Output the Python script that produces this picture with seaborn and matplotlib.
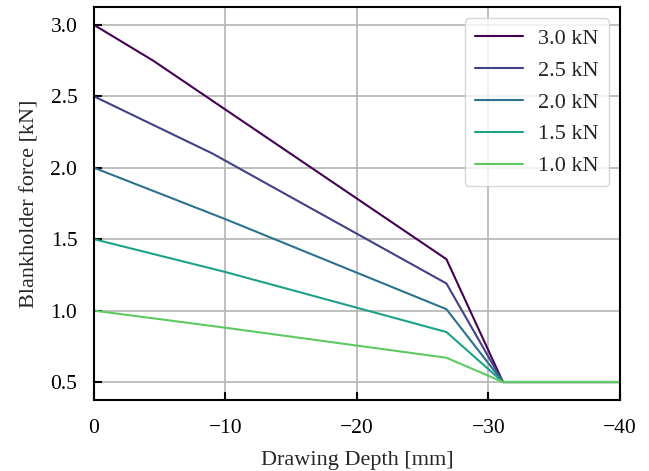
import matplotlib
matplotlib.use("Agg")
import matplotlib.pyplot as plt
import seaborn as sns
import pandas as pd
import numpy as np

# Data
labels = ["3.0 kN", "2.5 kN", "2.0 kN", "1.5 kN", "1.0 kN"]
depth_30 = [0, -4.5, -26.8, -31.1, -40]
force_30 = [3.0, 2.75, 1.36, 0.5, 0.5]
depth_25 = [0, -9.0, -26.8, -31.1, -40]
force_25 = [2.5, 2.10, 1.19, 0.5, 0.5]
depth_20 = [0, -10.0, -26.8, -31.1, -40]
force_20 = [2.0, 1.64, 1.01, 0.5, 0.5]
depth_15 = [0, -10.0, -26.8, -31.1, -40]
force_15 = [1.5, 1.27, 0.85, 0.5, 0.5]
depth_10 = [0, -10.0, -26.8, -31.1, -40]
force_10 = [1.0, 0.88, 0.67, 0.5, 0.5]
x_ticks = [0, -10, -20, -30, -40]
y_ticks = [0.5, 1.0, 1.5, 2.0, 2.5, 3.0]

series = [(depth_30, force_30), (depth_25, force_25), (depth_20, force_20),
          (depth_15, force_15), (depth_10, force_10)]
frames = []
for lab, (d, f) in zip(labels, series):
    frames.append(pd.DataFrame({"depth": d, "force": f, "bhf": lab}))
df = pd.concat(frames, ignore_index=True)

sns.set_style("ticks")
plt.rcParams["font.family"] = ["Liberation Serif", "DejaVu Serif"]

cmap = plt.get_cmap("viridis")
palette = [cmap(v) for v in np.linspace(0, 0.75, 5)]

fig = plt.figure(figsize=(6.49, 4.71), dpi=100)
ax = fig.add_axes([0.1448, 0.151, 0.8105, 0.834])

sns.lineplot(data=df, x="depth", y="force", hue="bhf", hue_order=labels,
             palette=palette, estimator=None, sort=False, linewidth=1.5, ax=ax)

ax.set_xlim(0, -40)
ax.set_ylim(0.375, 3.125)
ax.set_xticks(x_ticks)
ax.set_yticks(y_ticks)
ax.set_xticklabels(["0" if t == 0 else "\u2212" + str(abs(t)) for t in x_ticks])
ax.set_yticklabels([f"{t:.1f}" for t in y_ticks])
ax.grid(True, color="#b4b4b4", linewidth=1.2)
ax.set_axisbelow(True)
for s in ax.spines.values():
    s.set_linewidth(1.5)
    s.set_color("black")
    s.set_visible(True)
ax.tick_params(direction="in", length=6, width=1.5, labelsize=15.5,
               colors="black")
ax.tick_params(axis="x", pad=14)
ax.tick_params(axis="y", pad=12)
ax.set_xlabel("Drawing Depth [mm]", fontsize=16, labelpad=9)
ax.set_ylabel("Blankholder force [kN]", fontsize=16, labelpad=8)

leg = ax.legend(loc="upper right", fontsize=16, handlelength=2.15,
                frameon=True, fancybox=True, framealpha=0.8,
                edgecolor="#cccccc", borderpad=0.45, labelspacing=0.51,
                handletextpad=0.7)
leg.get_frame().set_linewidth(1.0)
for line in leg.get_lines():
    line.set_linewidth(1.5)

fig.savefig("out.png", dpi=100)
